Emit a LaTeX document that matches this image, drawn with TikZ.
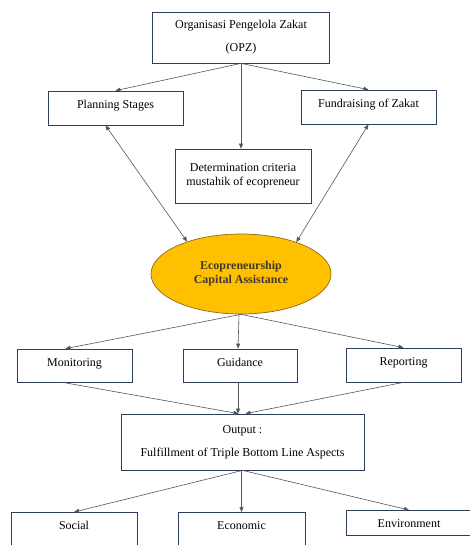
\documentclass[tikz,border=0pt]{standalone}
\usepackage{fontspec}
\setmainfont{Liberation Serif}
\usetikzlibrary{shapes.geometric,arrows.meta}
\definecolor{boxline}{RGB}{47,62,92}
\definecolor{arrowgray}{RGB}{85,85,85}
\definecolor{gold}{RGB}{255,192,0}
\definecolor{goldline}{RGB}{140,105,30}
\definecolor{ovaltext}{RGB}{64,56,48}
\tikzset{
  box/.style={draw=boxline, line width=0.7pt, rectangle, align=center,
    font=\fontsize{12}{14}\selectfont, inner sep=2pt},
  onebox/.style={box, text height=9pt, text depth=8pt},
  oval/.style={draw=goldline, line width=0.7pt, ellipse, fill=gold,
    text=ovaltext, align=center, font=\fontsize{12}{14}\bfseries,
    minimum width=180pt, minimum height=80pt},
  link/.style={draw=arrowgray, line width=0.6pt,
    -{Triangle[length=5pt,width=4pt]}},
}
\begin{document}
\begin{tikzpicture}[x=1pt,y=-1pt]
      \useasboundingbox (0,0) rectangle (470,545);
      \clip (0,0) rectangle (470,545);
      \draw
        (241,37.5) node[box, minimum width=177pt, minimum height=51pt] (opz)
          {Organisasi Pengelola Zakat\\[9pt](OPZ)}
        (115.5,108) node[onebox, minimum width=135pt, minimum height=34pt] (plan)
          {Planning Stages}
        (368.5,107) node[onebox, minimum width=135pt, minimum height=34pt] (fund)
          {Fundraising of Zakat}
        (243,176) node[box, minimum width=136pt, minimum height=54pt] (crit)
          {Determination criteria\\mustahik of ecopreneur}
        (241,274) node[oval] (eco)
          {Ecopreneurship\\Capital Assistance}
        (74.5,365.5) node[onebox, minimum width=115pt, minimum height=33pt] (mon)
          {Monitoring}
        (240,365.5) node[onebox, minimum width=114pt, minimum height=33pt] (guide)
          {Guidance}
        (403.5,365) node[onebox, minimum width=115pt, minimum height=34pt] (report)
          {Reporting}
        (242.5,442) node[box, minimum width=243pt, minimum height=56pt] (out)
          {Output :\\[9pt]Fulfillment of Triple Bottom Line Aspects}
        (74,512) node[box, anchor=north, minimum width=126pt, inner ysep=6pt,
          text height=11pt, text depth=40pt] (social) {Social}
        (241.5,512) node[box, anchor=north, minimum width=127pt, inner ysep=6pt,
          text height=11pt, text depth=40pt] (econ) {Economic}
        (409,510) node[box, anchor=north, minimum width=126pt, inner ysep=6pt,
          text height=11pt, text depth=2pt] (env) {Environment};
      \begin{scope}[link]
        \draw (opz.south) to (plan.north);
        \draw (opz.south) to (fund.north);
        \draw (opz.south) to (crit.north -| opz.south);
        \draw[{Triangle[length=5pt,width=4pt]}-{Triangle[length=5pt,width=4pt]}]
          ([xshift=-10pt]plan.south) to (eco.149);
        \draw[{Triangle[length=5pt,width=4pt]}-{Triangle[length=5pt,width=4pt]}]
          (fund.south) to (eco.30);
        \draw (eco.south) to ([xshift=-9pt]mon.north);
        \draw ([xshift=-2pt]eco.south) to ([xshift=-2pt]guide.north);
        \draw (eco.south) to (report.north);
        \draw ([xshift=-12pt]mon.south) to ([xshift=-4pt]out.north);
        \draw ([xshift=-2pt]guide.south) to ([xshift=-4.5pt]out.north);
        \draw (report.south) to ([xshift=3pt]out.north);
        \draw (out.south) to (social.north);
        \draw (out.south -| econ.north) to (econ.north);
        \draw (out.south) to (env.north);
      \end{scope}
    \end{tikzpicture}
\end{document}
